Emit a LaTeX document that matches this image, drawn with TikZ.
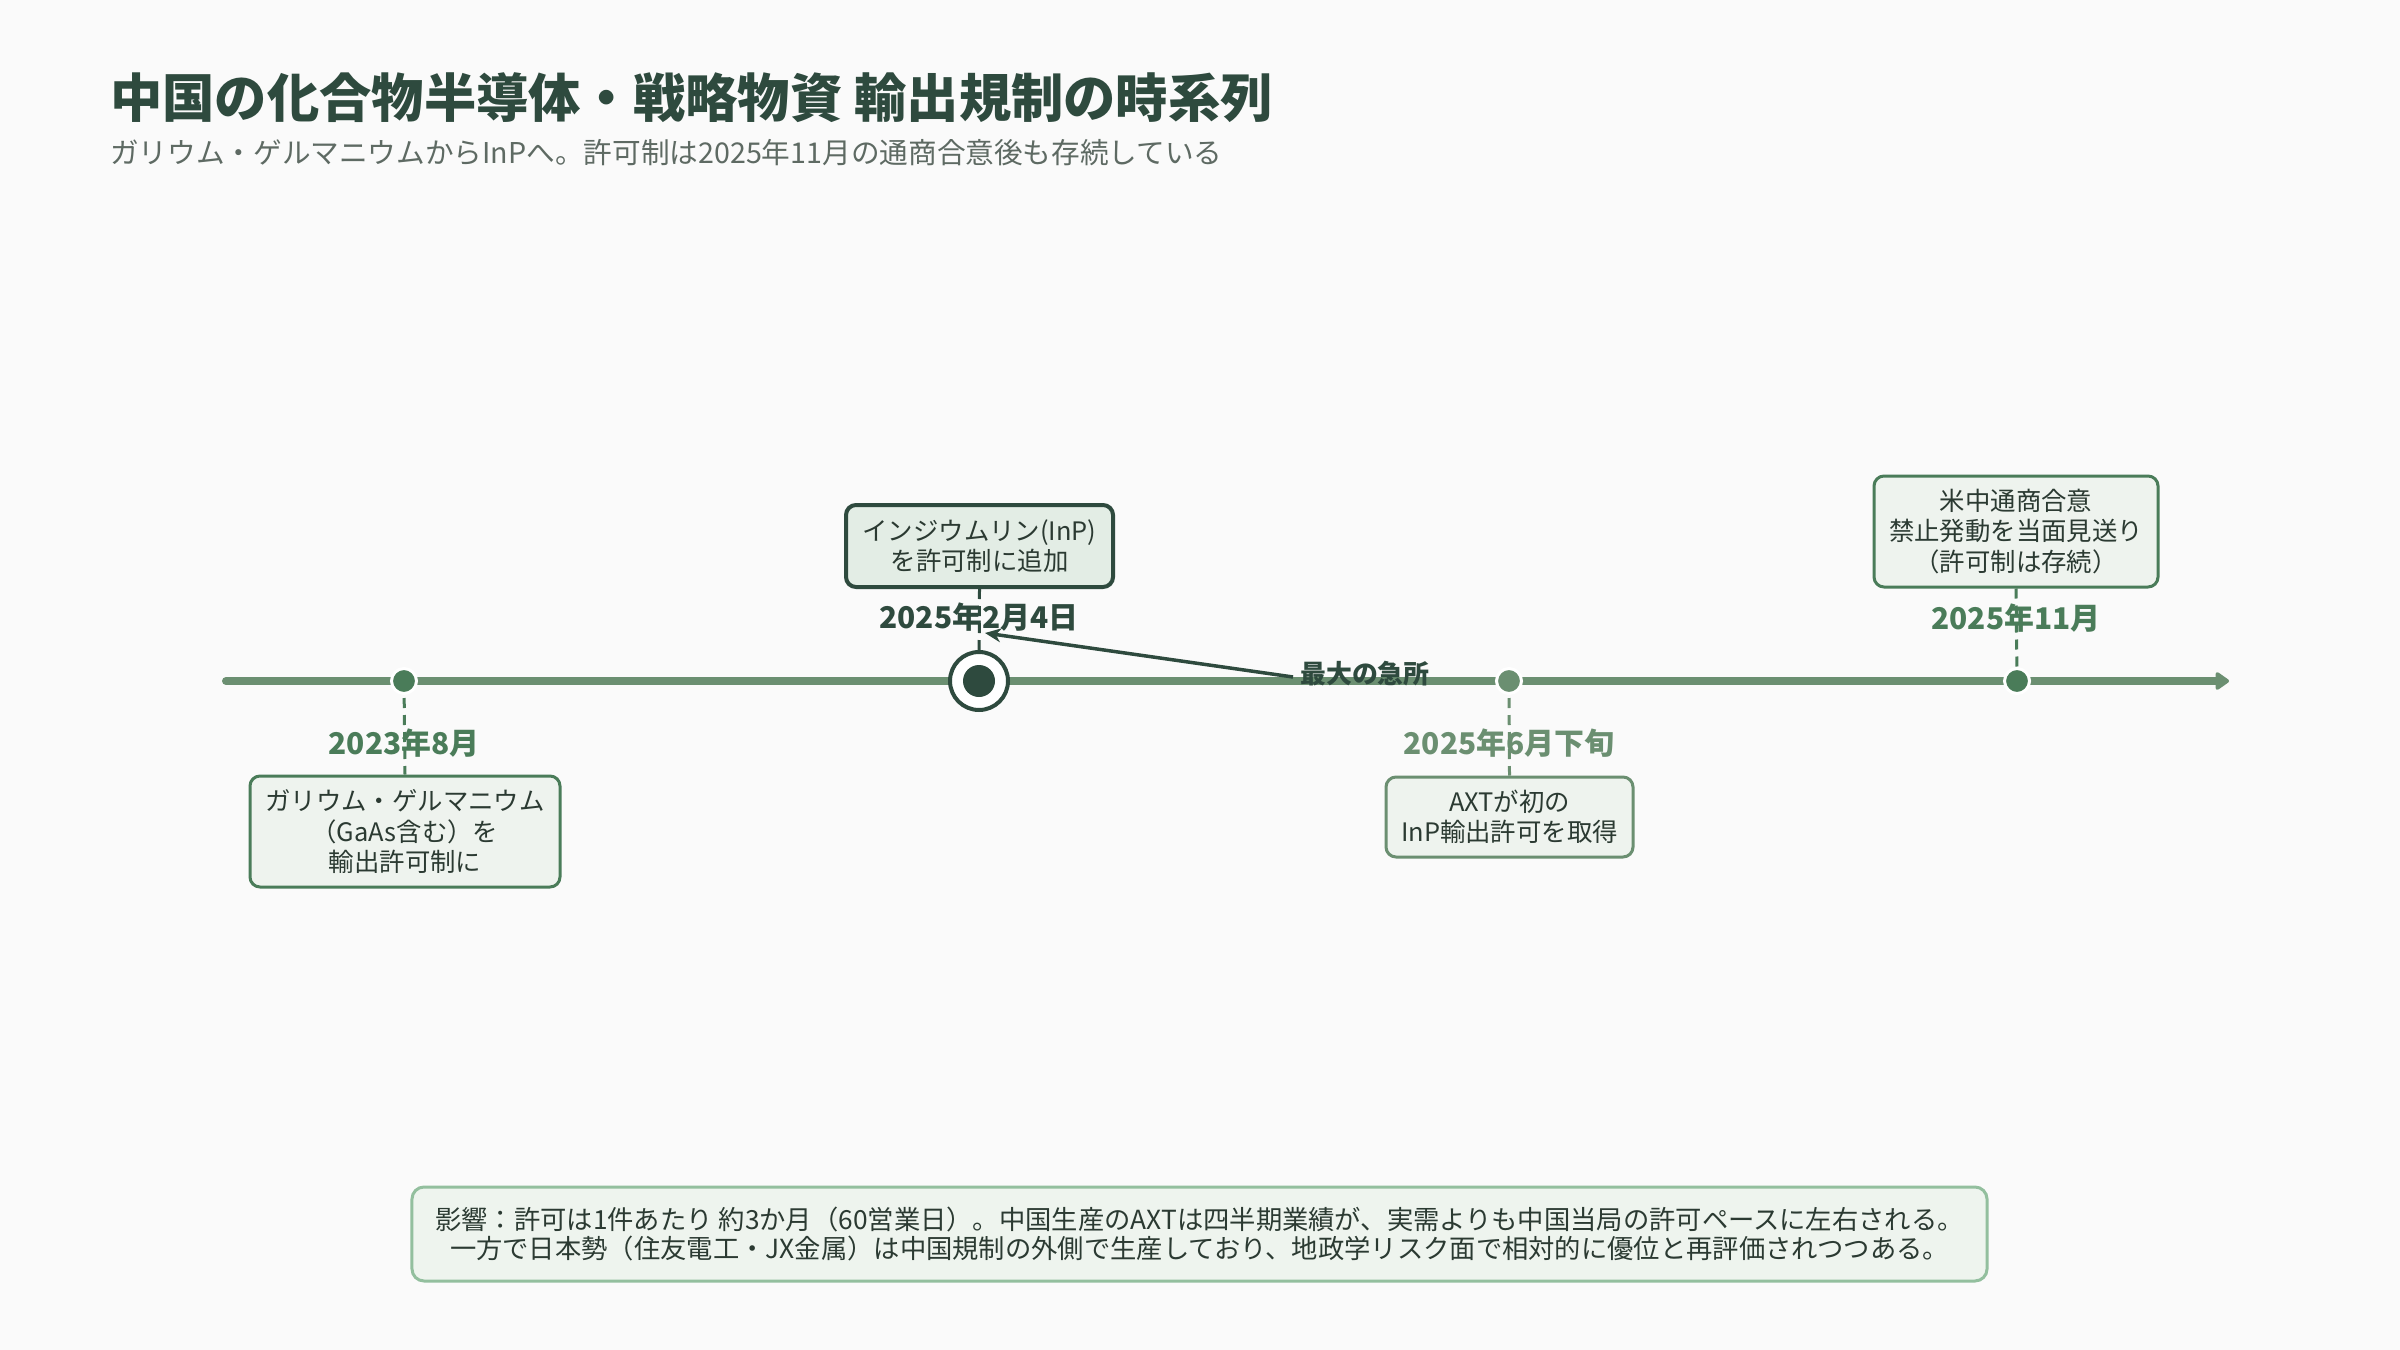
\documentclass[tikz,border=0pt]{standalone}
\usepackage{fontspec}
\setmainfont{Noto Sans CJK JP}
\usetikzlibrary{arrows.meta}
\definecolor{bgc}{HTML}{FAFAFA}
\definecolor{cdark}{HTML}{2E4A3E}
\definecolor{cmid}{HTML}{4A7C59}
\definecolor{clight}{HTML}{6B8F71}
\definecolor{cfill}{HTML}{EEF3EE}
\definecolor{cfillkey}{HTML}{E3EDE5}
\definecolor{cbotline}{HTML}{93BF9E}
\definecolor{cbotfill}{HTML}{EEF4EE}
\definecolor{ctext}{HTML}{2B3A32}
\definecolor{csub}{HTML}{5E6A63}
\pgfdeclarelayer{bg}
\pgfdeclarelayer{lines}
\pgfsetlayers{bg,lines,main}
\tikzset{
  evbox/.style={draw=cmid, line width=3bp, fill=cfill, rounded corners=10bp, align=center,
    text=ctext, inner sep=0pt, font=\fontsize{25.5}{30.5}\selectfont},
  datelbl/.style={font=\bfseries\fontsize{30}{36}\selectfont, inner sep=0pt},
  dotm/.style={circle, fill=cmid, draw=white, line width=3bp, minimum size=25bp, inner sep=0pt},
  dashlink/.style={line width=3bp, dash pattern=on 10bp off 7bp},
}
\begin{document}
\begin{tikzpicture}[x=1bp,y=-1bp]
\begin{pgfonlayer}{bg}
\fill[bgc] (0,0) rectangle (2400,1350);
\end{pgfonlayer}
\useasboundingbox (0,0) rectangle (2400,1350);

% title
\node[anchor=west, inner sep=0pt, text=cdark, font=\bfseries\fontsize{52.5}{60}\selectfont] (title) at (110,98) {中国の化合物半導体・戦略物資 輸出規制の時系列};
\node[anchor=west, inner sep=0pt, text=csub, font=\fontsize{28.75}{34}\selectfont] (subtitle) at (110,153) {ガリウム・ゲルマニウムからInPへ。許可制は2025年11月の通商合意後も存続している};

% positions
\coordinate (tl0) at (226,681);
\coordinate (tl1) at (2229,681);
\coordinate (p1) at (404,681);
\coordinate (p2) at (979,681);
\coordinate (p3) at (1509,681);
\coordinate (p4) at (2017,681);

% boxes
\node[evbox, minimum width=310bp, minimum height=111bp] (b1) at (405,831.5) {ガリウム・ゲルマニウム\\（GaAs含む）を\\輸出許可制に};
\node[evbox, draw=cdark, line width=4bp, fill=cfillkey, minimum width=267bp, minimum height=82bp] (b2) at (979.5,546) {インジウムリン(InP)\\を許可制に追加};
\node[evbox, draw=clight, minimum width=247bp, minimum height=80bp] (b3) at (1509.5,817) {AXTが初の\\InP輸出許可を取得};
\node[evbox, minimum width=284bp, minimum height=111bp] (b4) at (2016,531.5) {米中通商合意\\禁止発動を当面見送り\\（許可制は存続）};

% date labels
\node[datelbl, text=cmid] (d1) at (404,743) {2023年8月};
\node[datelbl, text=cdark] (d2) at (979,617) {2025年2月4日};
\node[datelbl, text=clight] (d3) at (1509,743) {2025年6月下旬};
\node[datelbl, text=cmid] (d4) at (2016,618) {2025年11月};

% timeline and links
\begin{pgfonlayer}{lines}
\draw[clight, line width=8bp, line cap=round, -{Triangle[round, length=15bp, width=20bp]}] (tl0) -- (tl1);
\draw[dashlink, cmid] (p1) -- (b1.north);
\draw[dashlink, cdark] (b2.south) -- (p2);
\draw[dashlink, clight] (p3) -- (b3.north);
\draw[dashlink, cmid] (b4.south) -- (p4);
\end{pgfonlayer}

% markers
\node[dotm] (m1) at (p1) {};
\node[circle, draw=cdark, fill=white, line width=4bp, minimum size=58bp, inner sep=0pt] (m2ring) at (p2) {};
\node[circle, fill=cdark, minimum size=32bp, inner sep=0pt] (m2) at (p2) {};
\node[dotm, fill=clight] (m3) at (p3) {};
\node[dotm] (m4) at (p4) {};

% annotation
\node[anchor=west, inner sep=0pt, text=cdark, font=\bfseries\fontsize{26}{30}\selectfont] (kyusho) at (1300,674) {最大の急所};
\coordinate (ktip) at (985,633);
\draw[cdark, line width=3.5bp, -{Stealth[length=16bp, width=14bp]}] ([xshift=-7bp, yshift=-3bp]kyusho.west) -- (ktip);

% bottom note
\node[draw=cbotline, line width=3bp, fill=cbotfill, rounded corners=12bp, align=center, text=ctext,
  inner sep=0pt, minimum width=1575bp, minimum height=94bp, font=\fontsize{26.4}{30}\selectfont] (note) at (1199.5,1234)
  {影響：許可は1件あたり 約3か月（60営業日）。中国生産のAXTは四半期業績が、実需よりも中国当局の許可ペースに左右される。\\一方で日本勢（住友電工・JX金属）は中国規制の外側で生産しており、地政学リスク面で相対的に優位と再評価されつつある。};
\end{tikzpicture}
\end{document}
